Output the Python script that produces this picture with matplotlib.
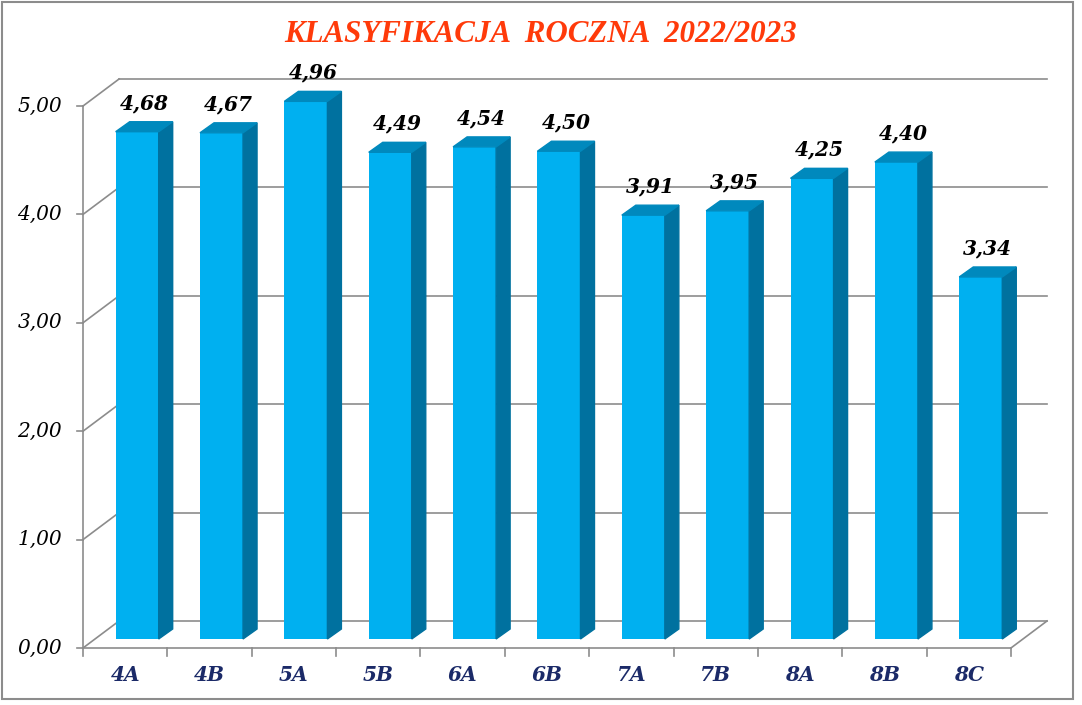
import matplotlib.pyplot as plt
from matplotlib.patches import Polygon, Rectangle

# data
klasy = ['4A', '4B', '5A', '5B', '6A', '6B', '7A', '7B', '8A', '8B', '8C']
srednie = [4.68, 4.67, 4.96, 4.49, 4.54, 4.50, 3.91, 3.95, 4.25, 4.40, 3.34]
yticks = [0, 1, 2, 3, 4, 5]

front = '#00b0f0'
side = '#00719f'
top = '#0089bd'
grid = '#8c8c8c'
font = 'DejaVu Serif'

fig = plt.figure(figsize=(10.82, 7.05), dpi=100)
ax = fig.add_axes([0, 0, 1, 1])
ax.set_xlim(-1.484, 11.342)
ax.set_ylim(-0.526, 5.978)
ax.axis('off')

# 3d depth (full wall) and bar placement in depth
dx, dy = 0.427, 0.249
bx0, by0 = 0.142, 0.083   # front of bar
bdx, bdy = 0.166, 0.092   # bar thickness
w = 0.51
n = len(klasy)
x0, x1 = -0.5, n - 0.5

# walls: back gridlines + side diagonals
for t in yticks:
    ax.plot([x0 + dx, x1 + dx], [t + dy, t + dy], color=grid, lw=1.2, zorder=1)
    ax.plot([x0, x0 + dx], [t, t + dy], color=grid, lw=1.2, zorder=1)
    ax.plot([x0 - 0.07, x0], [t, t], color=grid, lw=1.2, zorder=1)
    ax.text(x0 - 0.25, t, f'{t:.2f}'.replace('.', ','), ha='right', va='center',
            fontsize=14.5, style='italic', family=font, color='black')
ax.plot([x0, x0], [0, 5], color=grid, lw=1.2, zorder=1)
ax.plot([x0, x1], [0, 0], color=grid, lw=1.2, zorder=1)
ax.plot([x1, x1 + dx], [0, dy], color=grid, lw=1.2, zorder=1)
for i in range(n + 1):
    ax.plot([i - 0.5, i - 0.5], [0, -0.07], color=grid, lw=1.2, zorder=1)

# bars
xs = [i + bx0 for i in range(n)]
ax.bar(xs, srednie, width=w, bottom=by0, color=front, zorder=3)
for x, v in zip(xs, srednie):
    l, r = x - w / 2, x + w / 2
    yb, yt = by0, by0 + v
    ax.add_patch(Polygon([(r, yb), (r + bdx, yb + bdy), (r + bdx, yt + bdy), (r, yt)],
                         closed=True, color=side, zorder=3))
    ax.add_patch(Polygon([(l, yt), (l + bdx, yt + bdy), (r + bdx, yt + bdy), (r, yt)],
                         closed=True, color=top, zorder=3))
    ax.text(x + bdx / 2, yt + bdy + 0.08, f'{v:.2f}'.replace('.', ','), ha='center',
            va='bottom', fontsize=14.5, weight='bold', style='italic', family=font, color='black')

for i, k in enumerate(klasy):
    ax.text(i, -0.25, k, ha='center', va='center', fontsize=14.5, weight='bold',
            style='italic', family=font, color='#1b2a68')

fig.text(0.5, 0.951, 'KLASYFIKACJA  ROCZNA  2022/2023', ha='center', va='center',
         fontsize=22.3, weight='bold', style='italic', family='Liberation Serif', color='#ff3a0a')

fig.patches.append(Rectangle((2 / 1082, 6 / 705), 1071 / 1082, 697 / 705, fill=False,
                             edgecolor='#8c8c8c', lw=1.5, transform=fig.transFigure))

fig.savefig('out.png', dpi=100)
